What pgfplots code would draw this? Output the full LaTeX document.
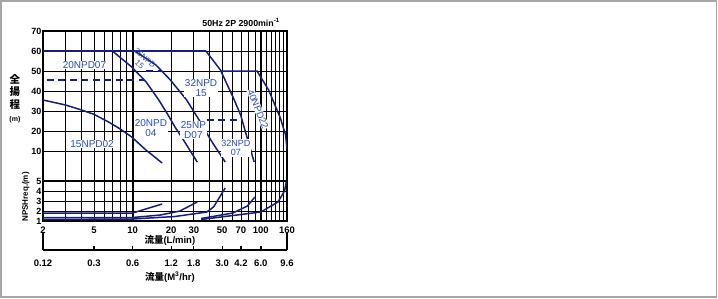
\documentclass[border=0pt]{standalone}
\usepackage{fontspec}
\setmainfont{Liberation Sans}
\newfontfamily\cjk{Noto Sans CJK JP}
\usepackage{pgfplots}
\pgfplotsset{compat=1.18}
\definecolor{curve}{RGB}{22,30,125}
\definecolor{lbl}{RGB}{40,75,195}
\tikzset{lab/.style={font=\fontsize{10}{10.5}\selectfont, text=lbl, fill=white, inner sep=0.6pt, align=center}}
\begin{document}
\begin{tikzpicture}
\useasboundingbox (0pt,0pt) rectangle (718pt,298pt);
\draw[line width=1.2pt, gray!70] (1pt,1pt) rectangle (716.5pt,297pt);

% ---------------- upper panel: total head ----------------
\begin{axis}[scale only axis, width=244pt, height=150pt, at={(43pt,117pt)}, anchor=south west,
  xmode=log, xmin=2, xmax=160, ymin=-5, ymax=70,
  clip mode=individual,
  axis line style={line width=2.2pt},
  xtick={10,100}, xticklabels={},
  minor xtick={3,4,5,6,7,8,9,20,30,40,50,60,70,80,90,110,120,130,140,150},
  ytick={10,20,30,40,50,60,70}, yticklabels={10,20,30,40,50,60,70},
  xmajorgrids, xminorgrids, ymajorgrids,
  major x grid style={black,line width=2.2pt},
  minor x grid style={black,line width=0.8pt},
  major y grid style={black,line width=0.9pt},
  major tick length=0pt, minor tick length=0pt,
  yticklabel style={inner sep=1.5pt, font=\bfseries\fontsize{9}{10}\selectfont},
  ylabel={{\cjk 全}\\{\cjk 揚}\\{\cjk 程}\\[1pt]{\fontsize{7}{7}\selectfont(m)}},
  ylabel style={rotate=-90, align=center, font=\bfseries\fontsize{10.5}{12.5}\selectfont,
    at={(axis description cs:-0.115,0.55)}, anchor=center},
 ]
 % shut-off head line 60 m
 \addplot[curve, line width=1.5pt] coordinates {(2,60) (37.3,60)};
 % 15NPD02
 \addplot[curve, line width=1.5pt] coordinates {(2,35.5) (3,33) (4,30.5) (5,28.3) (6.5,24.5) (8,21) (9.84,17) (12.7,10.5) (15.2,6.5) (17,4)};
 % 20NPD04 / 20NPD07
 \addplot[curve, line width=1.5pt] coordinates {(6.96,60) (9.84,52) (12.75,44.5) (16.0,35.5) (18.7,28.5) (21.4,22) (25.5,14.5) (31.9,4.5)};
 % 25NPD07 / 25NPD15
 \addplot[curve, line width=1.5pt] coordinates {(10.4,60) (15.2,53) (19.7,45.5) (26.4,35.5) (33.0,25.5) (40.7,15.5) (52.7,4.5)};
 % 32NPD07 / 32NPD15
 \addplot[curve, line width=1.5pt] coordinates {(37.3,60) (48.4,50.5) (60.6,37) (69.6,28) (77.1,18) (88.7,4.5)};
 % 40NPD22
 \addplot[curve, line width=1.5pt] coordinates {(48.5,50) (93.4,50) (115,40.5) (142,26.5) (156,18) (160,11)};
 % dashed limits
 \addplot[curve, line width=1.5pt, dash pattern=on 7pt off 4.5pt] coordinates {(2.14,45.5) (12.2,45.5)};
 \addplot[curve, line width=1.5pt, dash pattern=on 7pt off 4.5pt] coordinates {(12.75,50) (17,50)};
 \addplot[curve, line width=1.5pt, dash pattern=on 7pt off 4.5pt] coordinates {(37.9,25.5) (71.5,25.5)};
 % labels
 \node[lab] at (axis cs:4.21,53) {20NPD07};
 \node[lab] at (axis cs:4.83,13.5) {15NPD02};
 \node[lab] at (axis cs:13.9,21.5) {20NPD\\04};
 \node[lab] at (axis cs:29.8,20.5) {25NP\\D07};
 \node[lab, font=\fontsize{9}{9.5}\selectfont] at (axis cs:63.8,11.5) {32NPD\\07};
 \node[lab] at (axis cs:34.2,41.5) {32NPD\\15};
 \node[lab, rotate=-68, font=\fontsize{9.5}{10}\selectfont] at (axis cs:95,31) {40NPD22};
 \node[lab, rotate=-42, font=\fontsize{8}{8}\selectfont, fill=none] at (axis cs:11.9,55) {25NPD\\15};
 \node[anchor=east, font=\bfseries\fontsize{8.8}{9}\selectfont] at (rel axis cs:0.985,1.055) {50Hz 2P 2900min\textsuperscript{-1}};
\end{axis}

% ---------------- lower panel: NPSHreq ----------------
\begin{axis}[scale only axis, width=244pt, height=40pt, at={(43pt,117pt)}, anchor=north west,
  xmode=log, xmin=2, xmax=160, ymin=1, ymax=5,
  axis line style={line width=2.2pt},
  xtick={10,100}, xticklabels={10,100},
  extra x ticks={2,5,20,30,50,70,160},
  extra x tick labels={2,5,20,30,50,70,160},
  extra x tick style={grid=none},
  minor xtick={3,4,5,6,7,8,9,20,30,40,50,60,70,80,90,110,120,130,140,150},
  ytick={1,2,3,4,5}, yticklabels={1,2,3,4,5},
  xmajorgrids, xminorgrids, ymajorgrids,
  major x grid style={black,line width=2.2pt},
  minor x grid style={black,line width=0.8pt},
  major y grid style={black,line width=0.9pt},
  major tick length=0pt, minor tick length=0pt,
  yticklabel style={inner sep=1.5pt, font=\bfseries\fontsize{9}{10}\selectfont},
  xticklabel style={anchor=center, yshift=-9.5pt, font=\bfseries\fontsize{9.5}{10}\selectfont},
  xlabel={{\cjk 流量}(L/min)},
  xlabel style={at={(axis description cs:0.52,0)}, anchor=center, yshift=-19.5pt, font=\bfseries\fontsize{9.5}{10}\selectfont},
  ylabel={NPSHreq.(m)},
  ylabel style={at={(axis description cs:-0.07,0.6)}, anchor=center, font=\bfseries\fontsize{8}{8}\selectfont},
 ]
 \addplot[curve, line width=1.5pt] coordinates {(2,1.8) (10,1.8) (17,2.7)};
 \addplot[curve, line width=1.5pt] coordinates {(2,1.35) (10,1.35) (16.5,1.6) (23.4,2.0) (31.9,2.9)};
 \addplot[curve, line width=1.5pt] coordinates {(2,1.15) (10,1.2) (21.4,1.45) (37.9,1.9) (42.8,2.4) (52.7,4.3)};
 \addplot[curve, line width=1.5pt] coordinates {(34.2,1.25) (60.6,1.8) (78.6,2.5) (90,3.4)};
 \addplot[curve, line width=1.5pt] coordinates {(34.2,1.15) (100,1.9) (136,2.9) (153,4.0) (158,4.9)};
\end{axis}

% ---------------- m3/hr scale ----------------
\begin{axis}[scale only axis, width=244pt, height=10pt, at={(43pt,48pt)}, anchor=south west,
  xmode=log, xmin=0.12, xmax=9.6, ymin=0, ymax=1,
  axis y line=none, axis x line*=bottom,
  axis line style={line width=2.2pt},
  xtick={0.3,0.6,1.2,1.8,3.0,4.2,6.0}, xticklabels={0.3,0.6,1.2,1.8,3.0,4.2,6.0},
  extra x ticks={0.12,9.6}, extra x tick labels={0.12,9.6},
  extra x tick style={major tick length=17pt},
  minor xtick={}, minor tick length=0pt,
  tick align=inside, major tick length=4.5pt,
  tick style={black, line width=1.4pt},
  xticklabel style={anchor=center, yshift=-13pt, font=\bfseries\fontsize{9.5}{10}\selectfont},
  xlabel={{\cjk 流量}(M\textsuperscript{3}/hr)},
  xlabel style={at={(axis description cs:0.52,0)}, anchor=center, yshift=-27pt, font=\bfseries\fontsize{9.5}{10}\selectfont},
 ]
 \addplot[draw=none] coordinates {(1,0.5)};
\end{axis}
\end{tikzpicture}
\end{document}
